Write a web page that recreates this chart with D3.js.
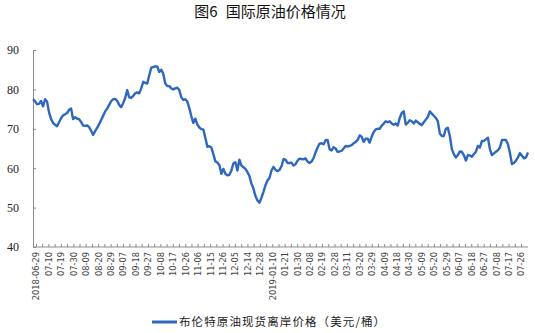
<!DOCTYPE html>
<html>
<head>
<meta charset="utf-8">
<script src="https://cdn.jsdelivr.net/npm/d3@7"></script>
<style>
  body { margin: 0; background: #fff; }
  svg { display: block; }
</style>
</head>
<body>
<svg width="535" height="333"></svg>
<script>
const titleHead = "图6"
const titleText = "国际原油价格情况"
const seriesName = "布伦特原油现货离岸价格（美元/桶）"

const tickLabels = ["2018-06-29","07-10","07-19","07-30","08-09","08-20","08-29","09-07","09-18","09-27",
    "10-08","10-17","10-26","11-06","11-15","11-26","12-05","12-14","12-28","2019-01-10",
    "01-21","01-30","02-08","02-19","02-28","03-11","03-20","03-29","04-09","04-18",
    "04-30","05-09","05-20","05-29","06-07","06-18","06-27","07-08","07-17","07-26"]

const yTicks = [40, 50, 60, 70, 80, 90]

// Brent spot (evenly spaced samples)
const brent2018 = [
    77.5,77.0,76.25,76.33,77.08,75.67,77.5,76.92,74.17,72.5,71.5,71.0,70.67,71.67,72.67,73.42,73.67,74.0,74.83,75.17,
    72.5,72.92,72.58,72.42,71.75,70.83,70.75,70.83,70.42,69.5,68.42,69.42,70.25,71.17,72.25,73.33,74.42,75.08,76.08,77.0,
    77.5,77.58,77.08,76.08,75.5,76.5,77.83,79.83,78.0,77.83,78.33,79.0,79.25,79.0,80.25,81.92,81.67,81.5,83.58,85.5,
    85.67,85.83,85.83,84.42,85.0,84.0,81.5,80.83,80.83,80.25,80.0,80.25,80.42,79.83,
    78.0,77.33,77.5,76.92,75.25,73.17,71.5,72.58,71.08,70.33,69.92,69.83,67.75,65.42,65.58,65.25,63.58,61.75,61.42,60.83,
    58.58,59.83,58.58,58.17,58.33,59.42,61.25,61.5,59.42,62.17,60.67,60.25,59.83,59.0,58.0,56.08,54.83,52.92,51.83,51.25,
    52.5,54.0,55.67,56.92,57.5,59.42,60.33,59.58,59.25,59.58
]
const brent2019 = [
    60.5,62.33,62.17,61.33,61.33,61.42,60.67,61.0,61.92,62.42,62.33,62.25,62.5,61.67,61.33,61.67,62.58,64.0,65.25,66.25,
    66.33,66.08,67.08,67.17,64.83,64.5,65.33,65.0,64.17,64.25,64.42,65.0,65.67,65.5,
    65.67,65.83,66.33,66.67,67.17,68.33,68.0,66.67,67.5,67.5,66.5,68.0,69.17,69.83,70.0,70.0,70.83,71.33,71.92,71.67,
    71.92,71.33,71.0,71.33,70.83,72.75,74.0,74.42,71.08,71.5,72.17,71.92,71.33,72.08,71.67,71.25,70.92,71.67,72.33,73.0,
    74.42,73.83,73.33,72.75,71.92,68.83,68.17,68.17,70.0,70.25,68.17,64.83,63.58,62.75,63.33,64.25,64.17,63.33,61.92,63.33,
    63.25,62.92,63.58,64.17,65.67,65.25,66.92,66.92,67.33,67.75,64.83,63.33,63.75,64.17,64.58,65.25,67.17,67.17,67.17,66.08,
    63.83,61.08,61.33,61.92,62.75,63.83,63.17,62.5,62.75,64.0
]
const values = brent2018.concat(brent2019)

const svg = d3.select("svg")

const x = d3.scaleLinear().domain([0, values.length - 1]).range([33, 528])
const xt = d3.scaleLinear().domain([0, tickLabels.length - 1]).range([36, 521])
const y = d3.scaleLinear().domain([40, 90]).range([247, 50])

const t = svg.append("text")
    .attr("x", 270).attr("y", 17)
    .attr("text-anchor", "middle")
    .attr("font-family", "'Noto Sans CJK SC', sans-serif")
    .attr("font-size", 15)
    .attr("fill", "#111")
t.append("tspan").text(titleHead)
t.append("tspan").attr("dx", 8).text(titleText)

// y axis
const yAxis = svg.append("g")
    .attr("transform", "translate(33,0)")
    .call(d3.axisLeft(y).tickValues(yTicks).tickSize(-3).tickSizeOuter(0).tickPadding(14))
yAxis.select(".domain").attr("stroke", "#8c8c8c")
yAxis.selectAll(".tick line").attr("stroke", "#8c8c8c")
yAxis.selectAll(".tick text")
    .attr("font-family", "'Liberation Serif', serif")
    .attr("font-size", 12)
    .attr("fill", "#222")

// x axis
const xAxis = svg.append("g")
    .attr("transform", "translate(0,247)")
    .call(d3.axisBottom(xt)
        .tickValues(d3.range(0, tickLabels.length - 0.9, 0.5))
        .tickFormat(i => Number.isInteger(i) ? tickLabels[i] : "")
        .tickSize(-3).tickSizeOuter(0))
xAxis.select(".domain").remove()
xAxis.append("line")
    .attr("x1", 33).attr("x2", 528)
    .attr("stroke", "#8c8c8c")
xAxis.selectAll(".tick line").attr("stroke", "#8c8c8c")
xAxis.selectAll(".tick text")
    .attr("font-family", "'DejaVu Sans', sans-serif")
    .attr("font-size", 8.3)
    .attr("fill", "#444")
    .attr("text-anchor", "end")
    .attr("transform", "rotate(-90)")
    .attr("x", -5).attr("y", 0).attr("dy", "0.35em")

const line = d3.line()
    .x((d, i) => x(i))
    .y(d => y(d))

svg.append("path")
    .datum(values)
    .attr("fill", "none")
    .attr("stroke", "#2d68bd")
    .attr("stroke-width", 2.4)
    .attr("stroke-linejoin", "round")
    .attr("d", line)

// legend
const lg = svg.append("g").attr("transform", "translate(152,322)")
lg.append("line")
    .attr("x1", 0).attr("x2", 25)
    .attr("stroke", "#2d68bd").attr("stroke-width", 3)
lg.append("text")
    .attr("x", 27).attr("dy", "0.35em")
    .attr("font-family", "'Noto Sans CJK SC', sans-serif")
    .attr("font-size", 11.5)
    .attr("letter-spacing", 1.1)
    .attr("fill", "#222")
    .text(seriesName)
</script>
</body>
</html>
